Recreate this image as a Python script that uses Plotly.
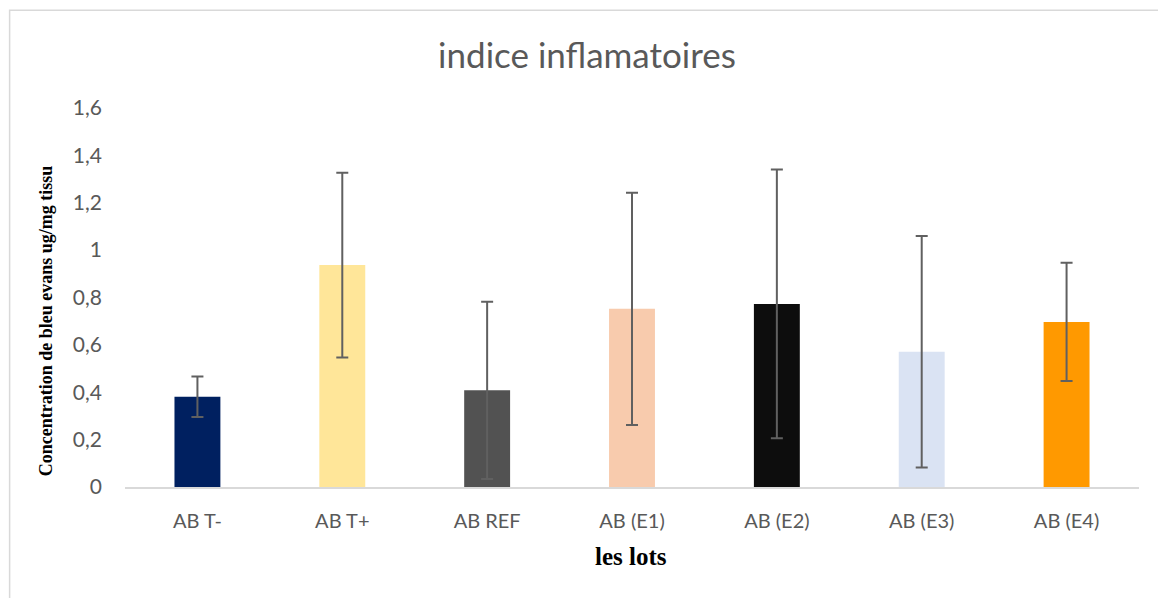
import plotly.graph_objects as go

categories = ["AB T-", "AB T+", "AB REF", "AB (E1)", "AB (E2)", "AB (E3)", "AB (E4)"]
values = [0.381, 0.937, 0.408, 0.752, 0.773, 0.571, 0.697]
errors = [0.085, 0.39, 0.374, 0.49, 0.567, 0.489, 0.25]
colors = ["#002060", "#FFE699", "#525252", "#F8CBAD", "#0D0D0D", "#DAE3F3", "#FF9900"]
y_ticks = [0, 0.2, 0.4, 0.6, 0.8, 1.0, 1.2, 1.4, 1.6]

W, H = 1158, 598
L, R, T, B = 124.5, 1139.5, 108, 487.5

fig = go.Figure(go.Bar(
    x=categories, y=values,
    marker=dict(color=colors, line=dict(width=0)),
    error_y=dict(type="data", array=errors, visible=True,
                 color="#606060", thickness=2, width=6),
    width=0.317,
))

def px(x):
    return (x - L) / (R - L)

def py(y):
    return (B - y) / (B - T)

fig.update_layout(
    width=W, height=H,
    margin=dict(l=L, r=W - R, t=T, b=H - B, autoexpand=False),
    paper_bgcolor="white", plot_bgcolor="white",
    separators=", ",
    showlegend=False,
    title=dict(text="indice inflamatoires", x=587 / W, xref="container",
               xanchor="center", y=1 - 56 / H, yanchor="middle",
               font=dict(family="Lato", size=35, color="#595959")),
    xaxis=dict(showline=True, linecolor="#D9D9D9", linewidth=1.5, showgrid=False,
               ticks="", ticklabelstandoff=15,
               tickfont=dict(family="Lato", size=20, color="#595959")),
    yaxis=dict(range=[0, 1.6], tickvals=y_ticks, showgrid=False, showline=False,
               zeroline=False, ticks="", ticklabelstandoff=22,
               tickfont=dict(family="Lato", size=21, color="#595959")),
    shapes=[dict(type="rect", xref="paper", yref="paper",
                 x0=px(9), x1=px(1170), y0=py(610), y1=py(10),
                 line=dict(color="#D9D9D9", width=1.5), fillcolor="rgba(0,0,0,0)",
                 layer="below")],
    annotations=[
        dict(text="<b>Concentration de bleu evans ug/mg tissu</b>", xref="paper", yref="paper",
             x=px(45), y=py(321), textangle=-90, showarrow=False,
             xanchor="center", yanchor="middle",
             font=dict(family="Liberation Serif", size=18, color="black")),
        dict(text="<b>les lots</b>", xref="paper", yref="paper",
             x=px(630.5), y=py(557), showarrow=False,
             xanchor="center", yanchor="middle",
             font=dict(family="Liberation Serif", size=25, color="black")),
    ],
)

fig.write_html("out.html", config={"displayModeBar": False},
               post_script="document.body.style.margin='0';")
